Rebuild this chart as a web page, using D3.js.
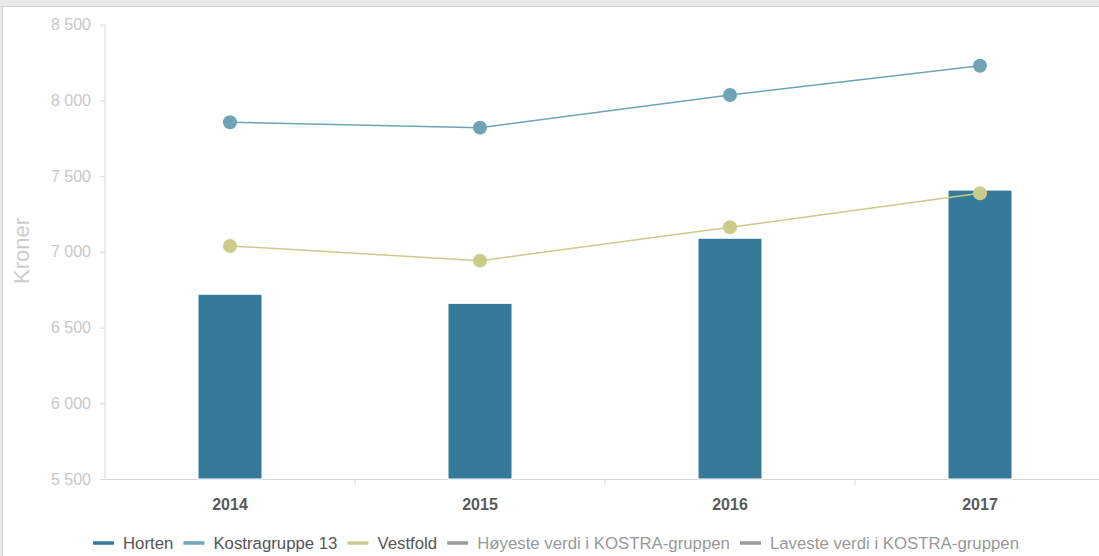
<!DOCTYPE html>
<html>
<head>
<meta charset="utf-8">
<script src="https://cdn.jsdelivr.net/npm/d3@7"></script>
<style>
  body { margin: 0; background: #fff; overflow: hidden; }
  svg { display: block; font-family: "Liberation Sans", Arial, sans-serif; }
</style>
</head>
<body>
<svg id="chart" width="1099" height="556"></svg>
<script>
var years = ["2014", "2015", "2016", "2017"];
var horten = [6720, 6660, 7090, 7408];
var kostra13 = [7856, 7820, 8036, 8229];
var vestfold = [7039, 6942, 7162, 7387];
var yTicks = [5500, 6000, 6500, 7000, 7500, 8000, 8500];
var legendItems = [
  { name: "Horten", color: "#367a99", active: true },
  { name: "Kostragruppe 13", color: "#6ea3b8", active: true },
  { name: "Vestfold", color: "#cbcb8c", active: true },
  { name: "Høyeste verdi i KOSTRA-gruppen", color: "#999", active: false },
  { name: "Laveste verdi i KOSTRA-gruppen", color: "#999", active: false }
];

var svg = d3.select("#chart");

// frame of the surrounding panel
svg.append("rect").attr("x", 0).attr("y", 0).attr("width", 1099).attr("height", 6).attr("fill", "#e9e9e9");
svg.append("rect").attr("x", 0).attr("y", 0).attr("width", 2).attr("height", 556).attr("fill", "#e9e9e9");
svg.append("line").attr("x1", 0).attr("x2", 1099).attr("y1", 6.5).attr("y2", 6.5).attr("stroke", "#cfcfcf");
svg.append("line").attr("x1", 2.5).attr("x2", 2.5).attr("y1", 6).attr("y2", 556).attr("stroke", "#cfcfcf");

var x = d3.scaleBand().domain(years).range([105, 1105]);
var y = d3.scaleLinear().domain([5500, 8500]).range([479, 24.7]);
var fmt = function(d) { return d3.format(",")(d).replace(",", " "); };

// y axis
var yAxis = svg.append("g").attr("transform", "translate(105,0)")
  .call(d3.axisLeft(y).tickValues(yTicks).tickSize(5).tickPadding(9).tickFormat(fmt));
yAxis.select(".domain").attr("stroke", "#d8d8d8").attr("d", "M0," + y(8500) + "V" + y(5500));
yAxis.selectAll(".tick line").attr("stroke", "#d8d8d8");
yAxis.selectAll(".tick text").attr("fill", "#c8c8c8").attr("font-size", 16);

svg.append("text")
  .attr("transform", "translate(29,251) rotate(-90)")
  .attr("text-anchor", "middle")
  .attr("font-size", 22).attr("fill", "#cccccc")
  .text("Kroner");

// x axis
var xAxis = svg.append("g").attr("transform", "translate(0,479)")
  .call(d3.axisBottom(x).tickSize(0).tickPadding(20));
xAxis.select(".domain").attr("stroke", "#d8d8d8").attr("d", "M105,0.5H1105");
xAxis.selectAll(".tick text").attr("fill", "#5a5a5a").attr("font-size", 16).attr("font-weight", "bold");
svg.append("g").selectAll("line").data(years.slice(1)).join("line")
  .attr("x1", function(d) { return x(d); }).attr("x2", function(d) { return x(d); })
  .attr("y1", 479).attr("y2", 485).attr("stroke", "#d8d8d8");

// bars
var bw = 64;
svg.append("g").selectAll("rect").data(horten).join("rect")
  .attr("x", function(d, i) { return x(years[i]) + x.bandwidth() / 2 - bw / 2; })
  .attr("y", function(d) { return y(d); })
  .attr("width", bw)
  .attr("height", function(d) { return y(5500) - y(d); })
  .attr("fill", "#367a99").attr("stroke", "#ffffff").attr("stroke-width", 1);

// lines
var drawLine = function(vals, color) {
  var line = d3.line()
    .x(function(d, i) { return x(years[i]) + x.bandwidth() / 2; })
    .y(function(d) { return y(d); });
  svg.append("path").datum(vals).attr("d", line)
    .attr("fill", "none").attr("stroke", color).attr("stroke-width", 1.5);
  svg.append("g").selectAll("circle").data(vals).join("circle")
    .attr("cx", function(d, i) { return x(years[i]) + x.bandwidth() / 2; })
    .attr("cy", function(d) { return y(d); })
    .attr("r", 7)
    .attr("fill", color);
};
drawLine(kostra13, "#6ea3b8");
drawLine(vestfold, "#cbcb8c");

// legend
var lx = 93;
var legend = svg.append("g");
legendItems.forEach(function(item) {
  legend.append("line").attr("x1", lx).attr("x2", lx + 21).attr("y1", 543).attr("y2", 543)
    .attr("stroke", item.color).attr("stroke-width", 3.5);
  var t = legend.append("text").attr("x", lx + 30).attr("y", 549)
    .attr("font-size", 16.8).attr("fill", item.active ? "#555" : "#999")
    .text(item.name);
  lx += 30 + t.node().getComputedTextLength() + 10;
});
</script>
</body>
</html>
